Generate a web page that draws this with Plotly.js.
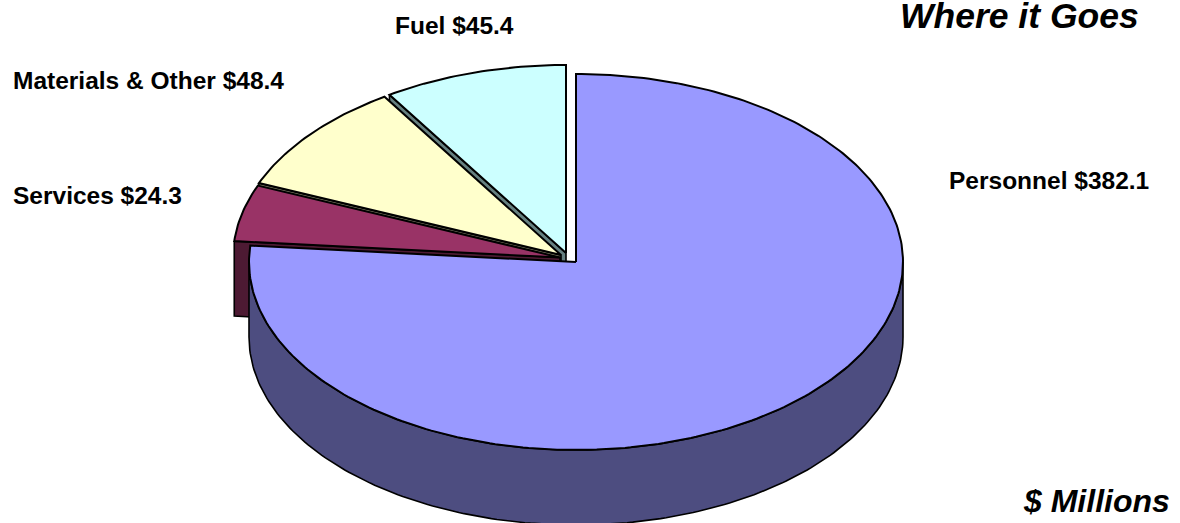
<!DOCTYPE html>
<html><head><meta charset="utf-8">
<script src="https://cdn.plot.ly/plotly-3.0.1.min.js"></script>
<style>html,body{margin:0;padding:0;background:#fff;overflow:hidden}</style>
</head><body><div id="chart" style="width:1180px;height:523px"></div>
<script>
// Data
const categories = ["Personnel", "Services", "Materials & Other", "Fuel"];
const values = [382.1, 24.3, 48.4, 45.4];
const faceColors = ["#9999ff", "#993366", "#ffffcc", "#ccffff"];
const wallColors = ["#4d4d80", "#4d1a33", "#808066", "#668080"];

// Projection of the tilted pie (pixel-scaled axes)
const rx = 327, ry = 188, depth = 75;
const centers = [[576, 262], [560, 257.5], [561, 255], [566, 253]];
const labelPos = [[1049, 180], [97, 195], [148.5, 80], [454, 25]];

const total = values.reduce((a, b) => a + b, 0);
const rad = d => d * Math.PI / 180;
function rim(c, a, dz) {
  return [c[0] + rx * Math.sin(rad(a)), c[1] - ry * Math.cos(rad(a)) + (dz || 0)];
}
function arc(c, a0, a1, dz) {
  const n = Math.max(2, Math.ceil(Math.abs(a1 - a0)));
  const pts = [];
  for (let i = 0; i <= n; i++) pts.push(rim(c, a0 + (a1 - a0) * i / n, dz));
  return pts;
}
function poly(pts, color, w) {
  const closed = pts.concat([pts[0]]);
  return {
    type: "scatter", mode: "lines", hoverinfo: "skip", showlegend: false,
    x: closed.map(p => p[0]), y: closed.map(p => p[1]),
    fill: "toself", fillcolor: color,
    line: {color: "#000", width: w, shape: "linear"}
  };
}

// Slice angle ranges, clockwise from 12 o'clock
let acc = 0;
const spans = values.map(v => { const s = [acc, acc + v / total * 360]; acc = s[1]; return s; });

const traces = [];
// Painter's order: back slices first
for (let i = values.length - 1; i >= 0; i--) {
  const c = centers[i], a0 = spans[i][0], a1 = spans[i][1];
  if (i === 0) {
    traces.push(poly(arc(c, 90, 270).concat(arc(c, 270, 90, depth)), wallColors[i], 1.6));
  } else {
    const p = rim(c, a0);
    traces.push(poly([p, c, [c[0], c[1] + depth], [p[0], p[1] + depth]], wallColors[i], 1.6));
  }
  traces.push(poly([c].concat(arc(c, a0, a1)), faceColors[i], 2));
}

const font = {family: "Liberation Sans, Arial, sans-serif", color: "#000", size: 24.5};
const annotations = categories.map((name, i) => ({
  xref: "x", yref: "y", x: labelPos[i][0], y: labelPos[i][1], showarrow: false,
  text: "<b>" + name + " $" + values[i].toFixed(1) + "</b>", font: font,
  xanchor: "center", yanchor: "middle"
}));
annotations.push(
  {xref: "x", yref: "y", x: 1141, y: 16, showarrow: false, xanchor: "right", yanchor: "middle",
   text: "<b><i>Where it Goes</i></b>", font: Object.assign({}, font, {size: 35.5})},
  {xref: "x", yref: "y", x: 1172, y: 501, showarrow: false, xanchor: "right", yanchor: "middle",
   text: "<b><i>$ Millions</i></b>", font: Object.assign({}, font, {size: 32})}
);

Plotly.newPlot("chart", traces, {
  width: 1180, height: 523, margin: {l: 0, r: 0, t: 0, b: 0},
  paper_bgcolor: "#fff", plot_bgcolor: "#fff", showlegend: false,
  xaxis: {range: [0, 1180], visible: false, fixedrange: true},
  yaxis: {range: [523, 0], visible: false, fixedrange: true},
  annotations: annotations
}, {displayModeBar: false, staticPlot: true});
</script></body></html>
